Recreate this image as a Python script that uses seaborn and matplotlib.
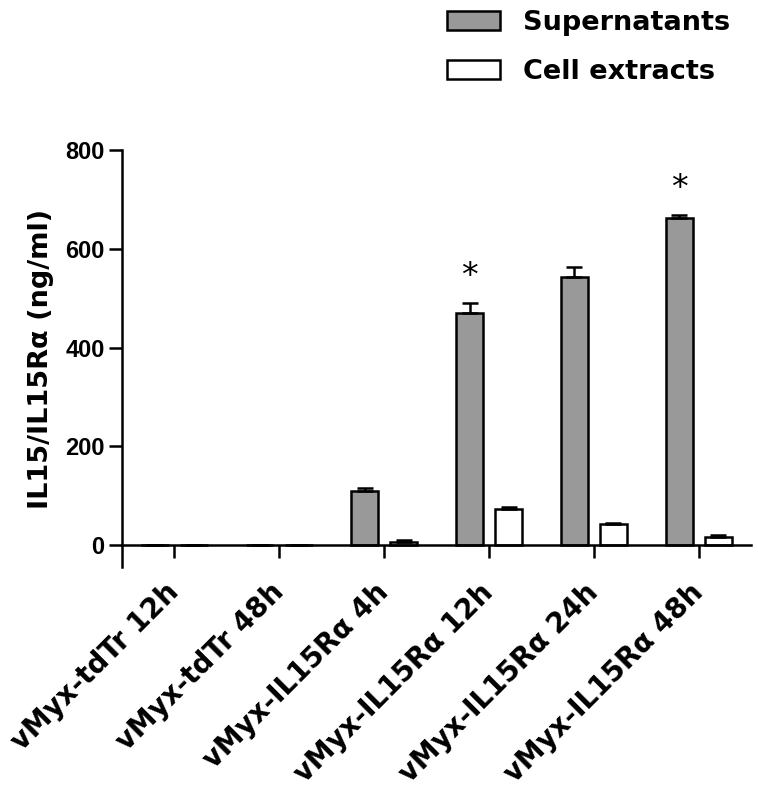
import numpy as np
import pandas as pd
import matplotlib
matplotlib.use("Agg")
import matplotlib.pyplot as plt
import matplotlib.transforms as mtransforms
import seaborn as sns
from matplotlib.patches import Patch

# data
conditions = ["vMyx-tdTr 12h", "vMyx-tdTr 48h", "vMyx-IL15Rα 4h",
              "vMyx-IL15Rα 12h", "vMyx-IL15Rα 24h", "vMyx-IL15Rα 48h"]
supernatants = [0, 0, 110, 470, 543, 662]
supernatants_err = [0, 0, 6, 20, 20, 6]
cell_extracts = [0, 0, 6, 73, 42, 16]
cell_extracts_err = [0, 0, 5, 5, 2, 4]
significant = [False, False, False, True, False, True]

series = ["Supernatants", "Cell extracts"]
colors = ["#999999", "#ffffff"]

df = pd.DataFrame({
    "condition": conditions * 2,
    "value": supernatants + cell_extracts,
    "series": [series[0]] * len(conditions) + [series[1]] * len(conditions),
})

sns.set_style("ticks")
plt.rcParams["font.family"] = ["DejaVu Sans"]
plt.rcParams["font.weight"] = "bold"
for k in ["text.color", "axes.labelcolor", "xtick.color", "ytick.color", "axes.edgecolor"]:
    plt.rcParams[k] = "black"

fig = plt.figure(figsize=(7.58, 7.90), dpi=100)
ax = fig.add_axes([0.161, 0.282, 0.830, 0.528])

sns.barplot(data=df, x="condition", y="value", hue="series",
            palette=colors, width=0.745, gap=0.3,
            edgecolor="black", linewidth=1.8, ax=ax, legend=False)

# one-sided error bars + significance stars
for cont, errs in zip(ax.containers, [supernatants_err, cell_extracts_err]):
    xs = [r.get_x() + r.get_width() / 2 for r in cont]
    hs = [r.get_height() for r in cont]
    ax.errorbar(xs, hs, yerr=[np.zeros(len(errs)), errs], fmt="none",
                ecolor="black", elinewidth=1.8, capsize=5.5, capthick=1.8,
                zorder=1)

for r, err, sig in zip(ax.containers[0], supernatants_err, significant):
    if sig:
        ax.text(r.get_x() + r.get_width() / 2, r.get_height() + err + 54, "*",
                ha="center", va="center", fontsize=24, fontweight="normal")

ax.set_xlim(-0.5, 5.5)
ax.set_ylim(-45, 800)
ax.set_yticks([0, 200, 400, 600, 800])
ax.spines["bottom"].set_position(("data", 0))
ax.spines["top"].set_visible(False)
ax.spines["right"].set_visible(False)
for s in ["left", "bottom"]:
    ax.spines[s].set_linewidth(1.8)
ax.tick_params(axis="both", width=1.8, length=9.5)
ax.tick_params(axis="y", pad=3)
for lab in ax.get_yticklabels():
    lab.set_fontfamily("Liberation Sans")
    lab.set_fontsize(17)
    lab.set_fontweight("bold")
ax.set_xticks(range(len(conditions)))
ax.set_xticklabels(conditions, rotation=45, ha="right",
                   rotation_mode="anchor", fontweight="bold", fontsize=20)
shift = mtransforms.ScaledTranslation(-10 / 100, -15 / 100, fig.dpi_scale_trans)
for lab in ax.get_xticklabels():
    lab.set_transform(lab.get_transform() + shift)
ax.set_xlabel("")
ax.set_ylabel("IL15/IL15Rα (ng/ml)", fontsize=19.5, fontweight="bold", labelpad=8)

handles = [Patch(facecolor=c, edgecolor="black", linewidth=1.8) for c in colors]
fig.legend(handles, series, loc="upper left", bbox_to_anchor=(0.558, 1.018),
           frameon=False, handlelength=1.95, handleheight=0.7,
           handletextpad=0.85, labelspacing=0.85, prop={"weight": "bold", "size": 19.5})

fig.savefig("out.png", dpi=100)
